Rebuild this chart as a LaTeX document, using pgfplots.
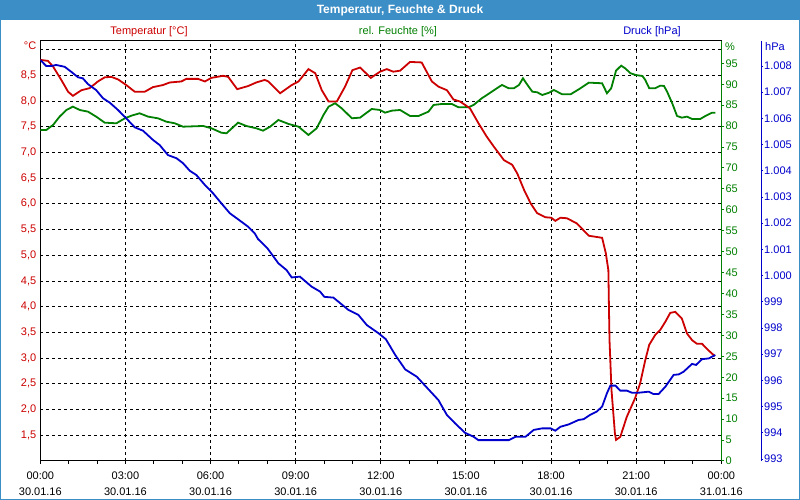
\documentclass[border=0pt]{standalone}
\usepackage{fontspec}
\setmainfont{Liberation Sans}
\usepackage{pgfplots}
\pgfplotsset{compat=1.18}
\usepackage{pgfplotstable}

\definecolor{tred}{RGB}{204,0,0}
\definecolor{hgreen}{RGB}{0,128,0}
\definecolor{pblue}{RGB}{0,0,204}
\definecolor{titlebar}{RGB}{60,142,198}

\pgfplotstableread{
h T
0 8.80
0.27 8.78
0.45 8.67
0.74 8.41
0.98 8.18
1.15 8.10
1.45 8.21
1.74 8.25
2.03 8.38
2.27 8.46
2.50 8.47
2.74 8.42
3.03 8.31
3.33 8.18
3.68 8.18
3.97 8.27
4.32 8.31
4.56 8.36
4.97 8.38
5.15 8.43
5.56 8.43
5.80 8.38
6.03 8.45
6.44 8.49
6.62 8.47
6.94 8.23
7.32 8.29
7.61 8.36
7.91 8.41
8.04 8.38
8.45 8.15
8.86 8.31
9.10 8.38
9.45 8.62
9.69 8.54
9.92 8.21
10.16 7.99
10.45 7.99
10.74 8.28
11.00 8.60
11.27 8.65
11.65 8.45
11.97 8.57
12.21 8.62
12.44 8.57
12.68 8.59
13.03 8.76
13.44 8.75
13.80 8.38
14.03 8.28
14.33 8.21
14.56 8.03
14.79 7.99
15.14 7.86
15.44 7.57
15.73 7.31
16.00 7.10
16.34 6.85
16.63 6.76
16.81 6.59
17.05 6.27
17.28 6.01
17.51 5.82
17.80 5.74
18.01 5.73
18.15 5.67
18.33 5.73
18.56 5.72
18.91 5.62
19.33 5.38
19.80 5.34
19.93 5.04
20.02 4.71
20.04 4.00
20.06 3.35
20.13 2.38
20.25 1.54
20.29 1.41
20.44 1.47
20.67 1.86
20.96 2.22
21.14 2.51
21.32 2.96
21.46 3.26
21.67 3.45
21.85 3.55
22.03 3.71
22.20 3.88
22.38 3.90
22.61 3.77
22.79 3.48
22.97 3.35
23.14 3.28
23.32 3.28
23.53 3.16
23.77 3.04
}\temptable

\pgfplotstableread{
h P
0 1008.23
0.21 1008.00
0.39 1008.00
0.56 1008.04
0.86 1007.97
1.09 1007.78
1.33 1007.57
1.50 1007.53
1.68 1007.31
1.97 1007.08
2.21 1006.77
2.45 1006.60
2.74 1006.32
3.03 1006.00
3.33 1005.66
3.62 1005.53
3.97 1005.18
4.21 1004.98
4.50 1004.60
4.80 1004.48
5.03 1004.29
5.27 1004.00
5.50 1003.84
5.80 1003.46
6.09 1003.14
6.38 1002.76
6.68 1002.38
6.97 1002.15
7.32 1001.87
7.56 1001.61
7.67 1001.40
8.00 1001.05
8.39 1000.47
8.68 1000.21
8.86 999.93
9.15 999.96
9.56 999.58
9.86 999.39
10.01 999.19
10.33 999.16
10.86 998.69
11.21 998.50
11.51 998.11
11.92 997.80
12.18 997.57
12.51 996.97
12.86 996.42
13.27 996.14
13.68 995.66
14.03 995.25
14.33 994.68
14.62 994.36
14.97 994.00
15.27 993.85
15.44 993.72
16.51 993.72
16.75 993.85
17.10 993.85
17.39 994.11
17.69 994.17
17.98 994.17
18.15 994.08
18.33 994.23
18.62 994.32
18.97 994.49
19.15 994.52
19.37 994.68
19.61 994.81
19.80 995.00
19.97 995.51
20.09 995.80
20.27 995.80
20.44 995.61
20.67 995.61
20.85 995.53
21.09 995.53
21.44 995.57
21.61 995.48
21.79 995.48
22.03 995.76
22.32 996.21
22.50 996.23
22.67 996.33
22.97 996.63
23.11 996.59
23.32 996.81
23.56 996.84
23.79 996.97
}\presstable

\pgfplotstableread{
h H
0 79.07
0.21 79.07
0.45 80.27
0.68 82.26
0.92 83.85
1.15 84.65
1.39 83.85
1.68 83.45
1.97 82.26
2.27 80.82
2.68 80.67
2.98 81.86
3.21 82.49
3.50 83.06
3.80 82.26
4.15 81.86
4.44 81.06
4.74 80.67
5.03 79.86
5.74 80.03
6.03 79.48
6.38 78.43
6.56 78.28
6.97 80.82
7.26 80.03
7.61 79.48
7.85 78.91
8.10 79.86
8.39 81.46
8.75 80.51
9.10 79.86
9.45 77.88
9.74 79.48
9.98 82.66
10.16 84.65
10.39 85.45
10.62 84.26
10.98 81.87
11.27 82.02
11.68 84.09
11.97 83.85
12.15 83.21
12.39 83.69
12.68 83.85
13.03 82.42
13.33 82.42
13.68 83.45
13.86 85.05
14.15 85.28
14.50 85.28
14.74 84.50
15.09 84.50
15.27 85.05
15.56 86.65
15.86 87.98
16.09 89.04
16.27 89.82
16.51 89.04
16.69 89.04
16.87 89.82
17.01 91.42
17.17 89.82
17.34 88.22
17.51 88.08
17.69 87.43
17.93 87.98
18.10 88.63
18.39 87.60
18.69 87.60
18.98 88.80
19.33 90.38
19.80 90.23
19.97 87.84
20.12 89.04
20.29 93.24
20.47 94.44
20.61 93.81
20.80 92.62
20.98 92.21
21.22 91.97
21.32 91.02
21.46 89.04
21.67 89.04
21.85 89.66
21.98 89.59
22.09 88.22
22.27 85.45
22.44 82.42
22.61 82.02
22.79 82.26
22.97 81.70
23.26 81.70
23.44 82.42
23.67 83.21
23.79 83.21
}\humtable

\pgfplotsset{
  base/.style={at={(40.3pt,39pt)}, anchor=south west, scale only axis,
    height=420pt, xmin=0},
}

\begin{document}
\begin{tikzpicture}[font=\fontsize{11}{13}\selectfont]
\path[use as bounding box] (0,0) rectangle (800pt,500pt);
\fill[white] (0,0) rectangle (800pt,500pt);
\fill[titlebar] (0,480pt) rectangle (800pt,500pt);
\draw[titlebar, line width=1pt] (0.5pt,0.5pt) rectangle (799.5pt,499.5pt);
\node[white, font=\bfseries\fontsize{12}{13}\selectfont] at (400pt,490pt) {Temperatur, Feuchte \& Druck};

% frame axis: grid, temperature labels, time labels
\begin{axis}[base, width=681pt, xmax=24, ymin=1.0, ymax=9.167,
  axis line style={black, line width=1pt},
  xtick={0,3,6,9,12,15,18,21,24},
  minor xtick={1,2,4,5,7,8,10,11,13,14,16,17,19,20,22,23},
  xtick pos=bottom, ytick pos=left, tick align=outside,
  major tick length=3pt, minor tick length=3pt,
  xtick style={black, line width=1pt},
  ytick style={draw=none},
  ytick={1.5,2,2.5,3,3.5,4,4.5,5,5.5,6,6.5,7,7.5,8,8.5,9},
  yticklabels={{1,5},{2,0},{2,5},{3,0},{3,5},{4,0},{4,5},{5,0},{5,5},{6,0},{6,5},{7,0},{7,5},{8,0},{8,5},{}},
  yticklabel style={tred, xshift=2.5pt},
  xticklabels={{00:00\\30.01.16},{03:00\\30.01.16},{06:00\\30.01.16},{09:00\\30.01.16},{12:00\\30.01.16},{15:00\\30.01.16},{18:00\\30.01.16},{21:00\\30.01.16},{00:00\\31.01.16}},
  xticklabel style={align=center, font=\fontsize{11}{16}\selectfont, black, yshift=-4pt},
  xmajorgrids, ymajorgrids,
  major grid style={black, dash pattern=on 3pt off 3pt, line width=1pt},
]
\end{axis}

% humidity axis
\begin{axis}[base, width=681pt, xmax=24, ymin=0, ymax=100.33,
  axis x line=none, axis y line*=right,
  y axis line style={hgreen, line width=1pt, -},
  ytick={0,5,...,95}, tick align=outside, major tick length=3pt,
  ytick style={hgreen, line width=1pt},
  yticklabel style={hgreen, inner sep=1pt},
  /pgf/number format/assume math mode=true,
]
\addplot[hgreen, line width=1.8pt] table[x=h, y=H] {\humtable};
\end{axis}

% temperature plot
\begin{axis}[base, width=681pt, xmax=24, ymin=1.0, ymax=9.167, hide axis]
\addplot[tred, line width=1.8pt] table[x=h, y=T] {\temptable};
\end{axis}

% pressure axis
\begin{axis}[base, width=720.7pt, xmax=25.40, ymin=992.924, ymax=1008.955,
  axis x line=none, axis y line*=right,
  y axis line style={pblue, line width=1pt, -},
  ytick={993,994,995,996,997,998,999,1000,1001,1002,1003,1004,1005,1006,1007,1008},
  yticklabels={993,994,995,996,997,998,999,1.000,1.001,1.002,1.003,1.004,1.005,1.006,1.007,1.008},
  tick align=outside, major tick length=2pt,
  ytick style={pblue, line width=1pt},
  yticklabel style={pblue, inner sep=1pt},
]
\addplot[pblue, line width=1.8pt] table[x=h, y=P] {\presstable};
\end{axis}

\node[tred] at (149pt,468pt) {Temperatur [°C]};
\node[hgreen] at (398pt,468pt) {rel. Feuchte [\%]};
\node[pblue] at (652pt,468pt) {Druck [hPa]};
\node[tred, anchor=east, inner sep=0pt] at (36.5pt,454pt) {°C};
\node[hgreen, anchor=west, inner sep=0pt] at (725pt,453.5pt) {\%};
\node[pblue, anchor=west, inner sep=0pt] at (765pt,453.5pt) {hPa};
\end{tikzpicture}
\end{document}
